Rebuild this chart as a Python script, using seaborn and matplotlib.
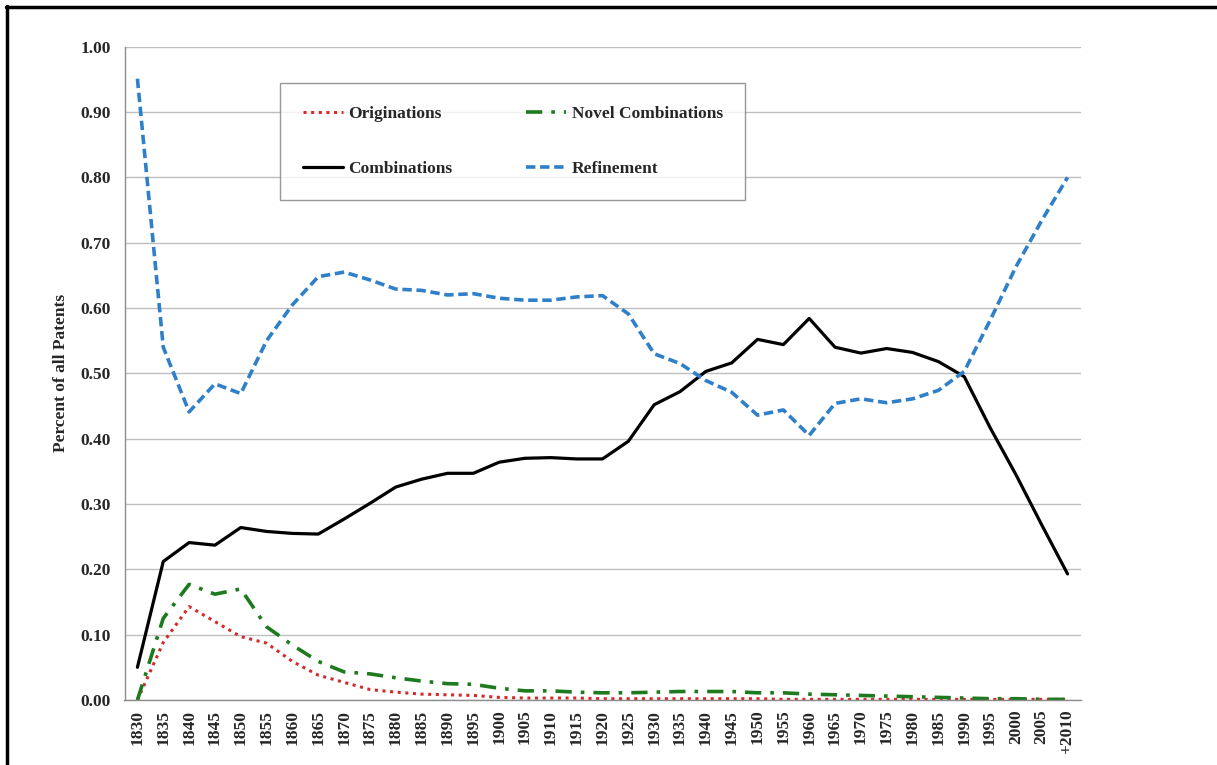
import numpy as np
import pandas as pd
import matplotlib.pyplot as plt
import matplotlib.lines as mlines
import seaborn as sns

# x categories (five-year periods)
periods = ['1830', '1835', '1840', '1845', '1850', '1855', '1860', '1865', '1870', '1875',
           '1880', '1885', '1890', '1895', '1900', '1905', '1910', '1915', '1920', '1925',
           '1930', '1935', '1940', '1945', '1950', '1955', '1960', '1965', '1970', '1975',
           '1980', '1985', '1990', '1995', '2000', '2005', '+2010']

# share of all patents
originations = [0.000, 0.088, 0.143, 0.120, 0.097, 0.087, 0.059, 0.038, 0.027, 0.016,
                0.012, 0.009, 0.008, 0.007, 0.004, 0.003, 0.003, 0.003, 0.002, 0.002,
                0.002, 0.002, 0.002, 0.002, 0.002, 0.001, 0.001, 0.001, 0.001, 0.001,
                0.001, 0.001, 0.001, 0.001, 0.001, 0.001, 0.001]
novel_combinations = [0.000, 0.125, 0.177, 0.162, 0.170, 0.112, 0.084, 0.059, 0.043, 0.040,
                      0.034, 0.029, 0.025, 0.024, 0.018, 0.014, 0.014, 0.012, 0.011, 0.011,
                      0.012, 0.013, 0.013, 0.013, 0.011, 0.011, 0.009, 0.008, 0.007, 0.006,
                      0.005, 0.004, 0.003, 0.002, 0.002, 0.001, 0.001]
combinations = [0.050, 0.212, 0.241, 0.237, 0.264, 0.258, 0.255, 0.254, 0.277, 0.301,
                0.326, 0.338, 0.347, 0.347, 0.364, 0.370, 0.371, 0.369, 0.369, 0.396,
                0.452, 0.472, 0.503, 0.516, 0.552, 0.544, 0.584, 0.540, 0.531, 0.538,
                0.532, 0.518, 0.495, 0.417, 0.345, 0.268, 0.193]
refinement = [0.951, 0.540, 0.441, 0.484, 0.469, 0.550, 0.605, 0.648, 0.655, 0.643,
              0.629, 0.627, 0.620, 0.622, 0.615, 0.612, 0.612, 0.617, 0.619, 0.591,
              0.530, 0.515, 0.489, 0.471, 0.436, 0.444, 0.405, 0.454, 0.461, 0.455,
              0.461, 0.474, 0.503, 0.581, 0.663, 0.734, 0.800]

sns.set_theme(style="white")
plt.rcParams['font.family'] = ['Liberation Serif', 'DejaVu Serif']
plt.rcParams['font.weight'] = 'bold'

pos = np.arange(len(periods))

fig = plt.figure(figsize=(12.17, 7.65), dpi=100)
ax = fig.add_axes([124.5 / 1217, 1 - 700 / 765, 956 / 1217, (700 - 46.7) / 765])

# draw the four series
sns.lineplot(x=pos, y=originations, ax=ax, color='#D62A2A', linewidth=2.2,
             linestyle=(0, (1, 1.5)), label='Originations')
sns.lineplot(x=pos, y=combinations, ax=ax, color='black', linewidth=2.3,
             label='Combinations')
sns.lineplot(x=pos, y=novel_combinations, ax=ax, color='#1E7A1E', linewidth=2.6,
             linestyle=(0, (4.5, 2.5, 1, 2.5)), label='Novel Combinations')
sns.lineplot(x=pos, y=refinement, ax=ax, color='#2F80C8', linewidth=2.6,
             linestyle=(0, (2.6, 1.3)), label='Refinement')

ax.set_xlim(-0.5, len(periods) - 0.5)
ax.set_ylim(0, 1.0)
ax.set_yticks(np.arange(0, 1.01, 0.1))
ax.set_yticklabels(['%.2f' % v for v in np.arange(0, 1.01, 0.1)], fontsize=12.5, fontweight='bold')
ax.set_xticks(pos)
ax.set_xticklabels(periods, rotation=90, fontsize=12.5, fontweight='bold')
ax.set_xticks(np.arange(-0.5, len(periods), 1), minor=True)
ax.tick_params(axis='x', which='major', length=0, pad=7)
ax.tick_params(axis='x', which='minor', length=5, color='#8C8C8C', width=1, direction='out')
ax.tick_params(axis='y', length=5, color='#8C8C8C', width=1, direction='out', pad=5)

ax.grid(axis='y', color='#BEBEBE', linewidth=1)
ax.grid(axis='x', visible=False)
for side in ['top', 'right']:
    ax.spines[side].set_visible(False)
for side in ['left', 'bottom']:
    ax.spines[side].set_color('#8C8C8C')
    ax.spines[side].set_linewidth(1)

ax.set_ylabel('Percent of all Patents', fontsize=12.5, fontweight='bold', labelpad=8)
ax.set_xlabel('')

# legend: two columns, filled column-first
handles, labels = ax.get_legend_handles_labels()
leg = ax.legend(handles, labels, ncol=2, loc='upper left',
                bbox_to_anchor=(280 / 1217, 1 - 83 / 765), bbox_transform=fig.transFigure,
                frameon=True, fancybox=False, shadow=False, borderaxespad=0,
                prop={'family': 'Liberation Serif', 'weight': 'bold', 'size': 12.5},
                handlelength=2.3, handletextpad=0.35, columnspacing=4.2,
                labelspacing=2.25, borderpad=1.3)
leg.get_frame().set_edgecolor('#7F7F7F')
leg.get_frame().set_linewidth(1)

# frame lines around the figure (top and left)
fig.add_artist(mlines.Line2D([6 / 1217, 1], [1 - 7 / 765, 1 - 7 / 765], color='black',
                             linewidth=2.5, transform=fig.transFigure))
fig.add_artist(mlines.Line2D([7 / 1217, 7 / 1217], [0, 1 - 6 / 765], color='black',
                             linewidth=2.5, transform=fig.transFigure))

fig.savefig('out.png', dpi=100)
